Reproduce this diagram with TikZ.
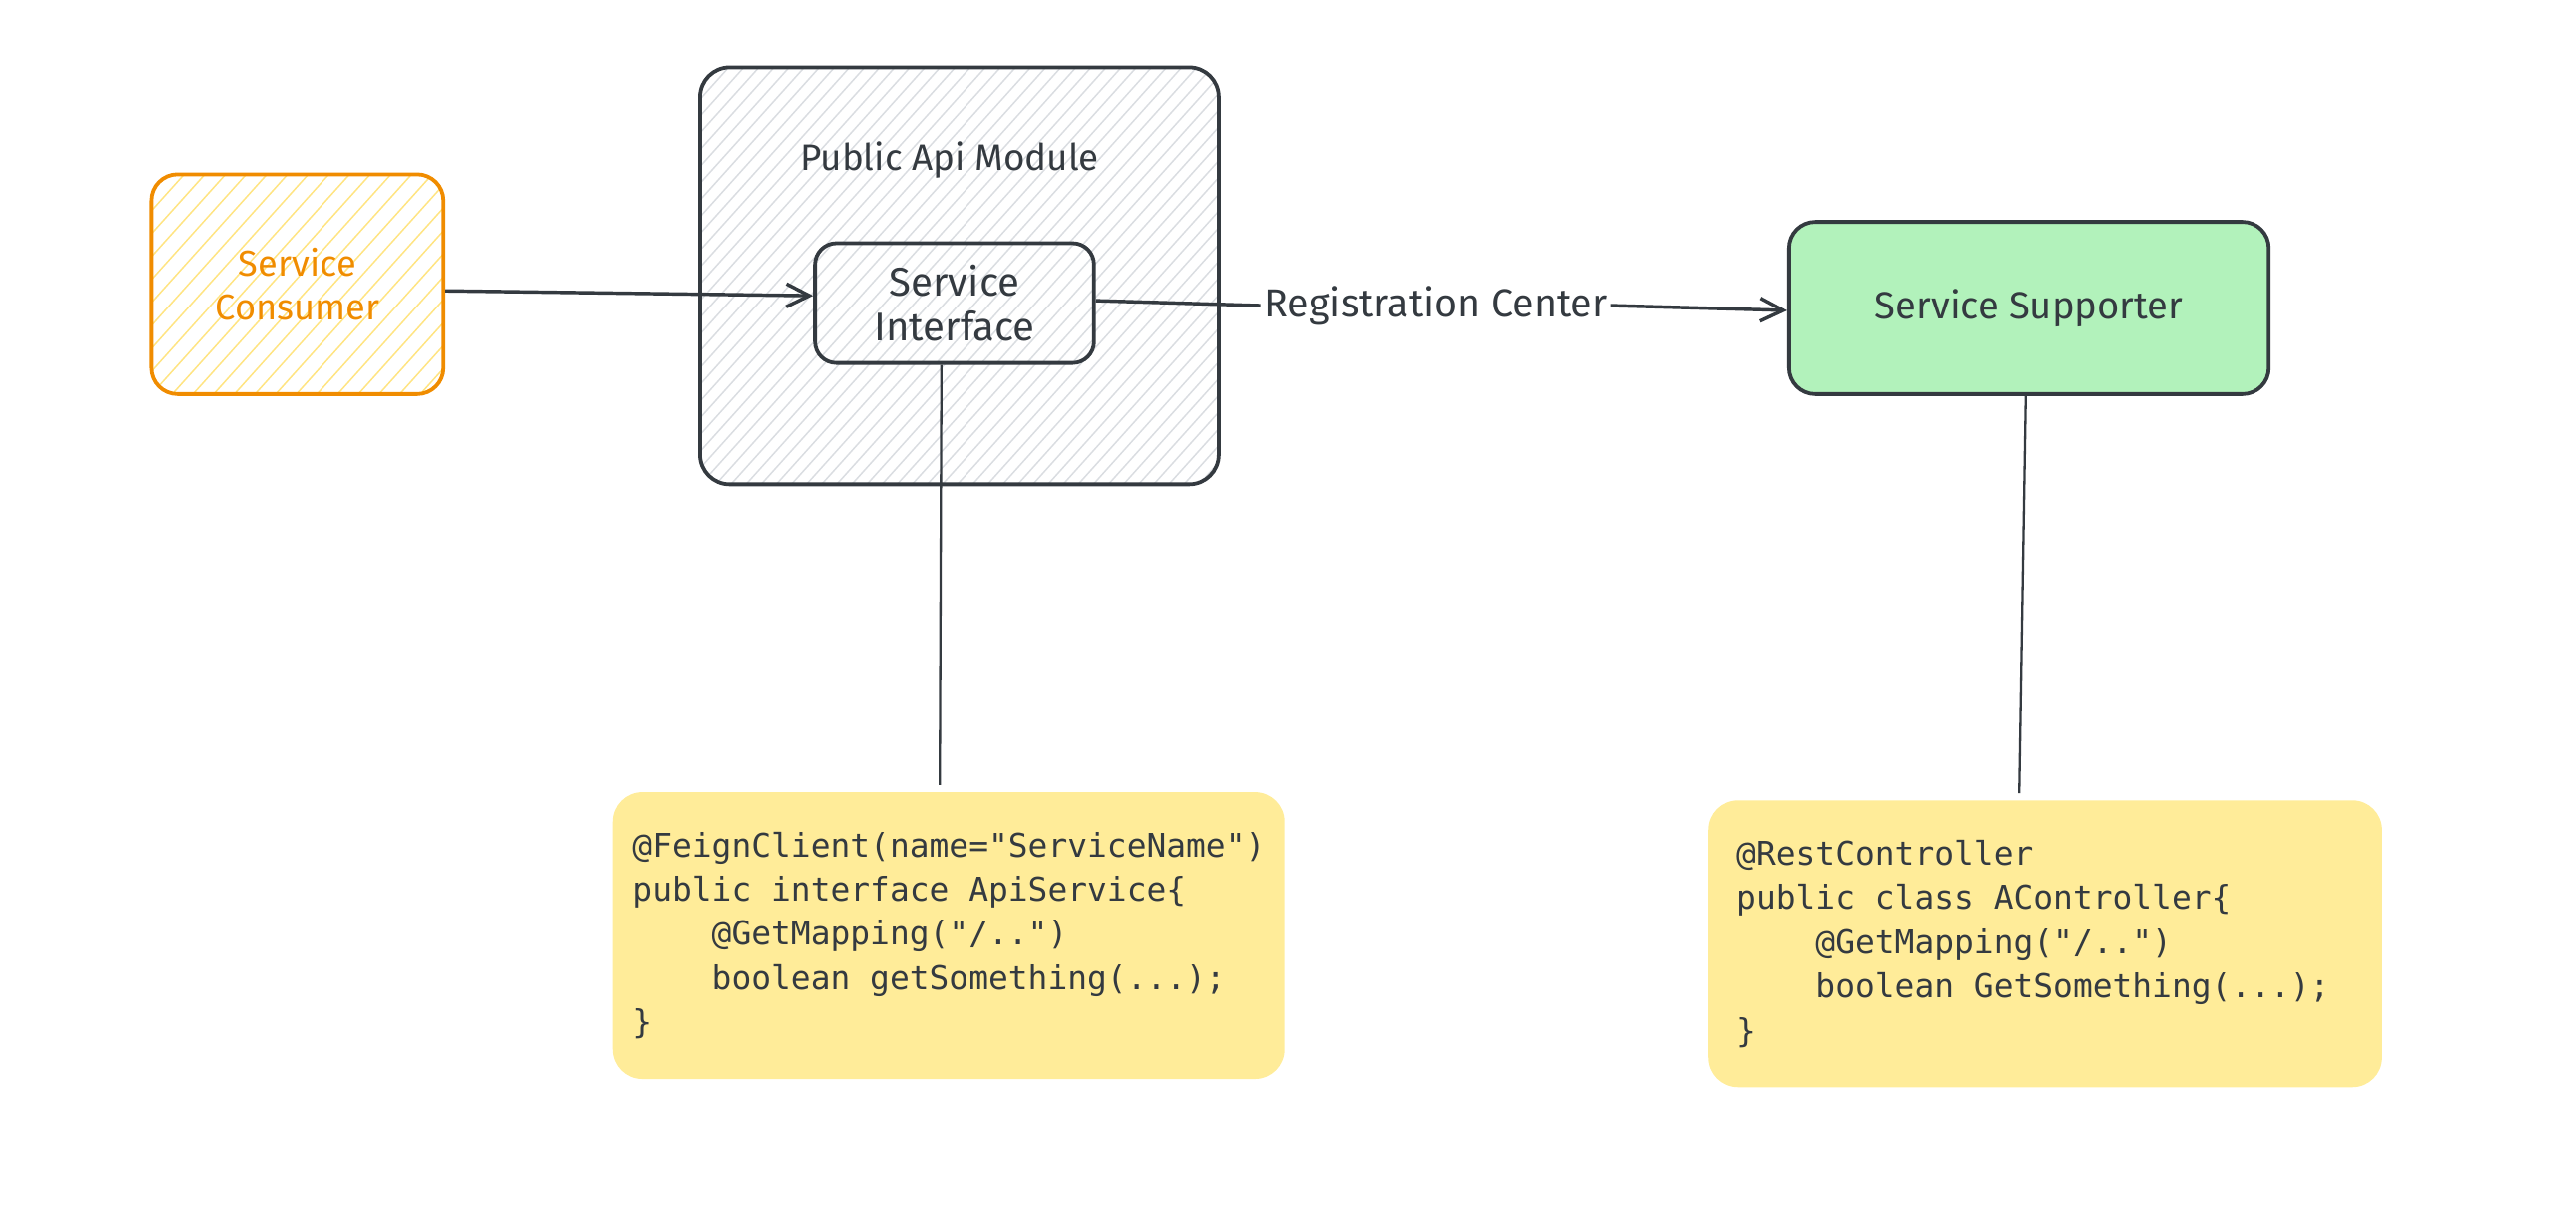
\documentclass[tikz,border=0pt]{standalone}
\usepackage{fontspec}
\setmainfont{Fira Sans}
\setmonofont{DejaVu Sans Mono}
\usetikzlibrary{arrows.meta}
\definecolor{ink}{RGB}{52,58,64}
\definecolor{orng}{RGB}{240,140,0}
\definecolor{hatchy}{RGB}{255,228,130}
\definecolor{hatchg}{RGB}{218,221,225}
\definecolor{grn}{RGB}{178,242,187}
\definecolor{yel}{RGB}{255,236,153}
\newcommand\codesp{\hspace*{0.602em}}
\tikzset{
  hatched/.style 2 args={path picture={
    \foreach \k in {0,...,90}{
      \draw[#1,line width=0.45pt] ([xshift=-170pt+\k*#2]path picture bounding box.south west) -- ++(180pt,200pt);
    }}},
  box/.style={draw=ink,line width=1.15pt,rounded corners=#1,align=center,inner sep=0pt,text=ink},
  codebox/.style={fill=yel,rounded corners=9pt,align=left,text=ink,inner ysep=0pt,font=\ttfamily\fontsize{10}{13.5}\selectfont},
  conn/.style={draw=ink,line width=1.05pt},
  thin/.style={draw=ink,line width=0.7pt},
  arr/.style={conn,-{Straight Barb[length=7pt,width=7pt]}},
  lbl/.style={text=ink,inner sep=1pt}
}
\begin{document}
\begin{tikzpicture}[x=0.5pt,y=-0.5pt]
\useasboundingbox (0,0) rectangle (1568,747.5);
% containers
\node[box=8pt,draw=orng,text=orng,hatched={hatchy}{6.3pt},minimum width=89pt,minimum height=67pt,font=\fontsize{11}{13.5}\selectfont] (consumer) at (181,173) {Service\\Consumer};
\node[box=9pt,hatched={hatchg}{4.6pt},minimum width=158pt,minimum height=127pt] (api) at (584,168) {};
\node[lbl,font=\fontsize{11.2}{13.5}\selectfont] (apilabel) at (578,97) {Public Api Module};
\node[box=6.5pt,fill=white,hatched={hatchg}{4.6pt},minimum width=85pt,minimum height=36.5pt,font=\fontsize{12.2}{13.5}\selectfont] (iface) at (581,184.5) {Service\\Interface};
\node[box=8pt,fill=grn,minimum width=146pt,minimum height=52.5pt,font=\fontsize{11.6}{13.5}\selectfont] (supp) at (1235,187.5) {Service Supporter};
\node[lbl,font=\fontsize{12}{13.5}\selectfont] (reg) at (874,186) {Registration Center};
% code boxes
\node[codebox,inner xsep=6pt,text width=192.5pt,minimum height=87.5pt] (code1) at (577.5,569.5) {@FeignClient(name="ServiceName")\\public\codesp interface\codesp ApiService\{\\\codesp\codesp\codesp\codesp @GetMapping("/..")\\\codesp\codesp\codesp\codesp boolean\codesp getSomething(...);\\\}};
\node[codebox,inner xsep=8.5pt,text width=188pt,minimum height=87.5pt] (code2) at (1245,574.5) {@RestController\\public\codesp class\codesp AController\{\\\codesp\codesp\codesp\codesp @GetMapping("/..")\\\codesp\codesp\codesp\codesp boolean\codesp GetSomething(...);\\\}};
% connectors
\draw[arr] ([yshift=-2pt]consumer.east) -- ([yshift=2.25pt]iface.west);
\draw[conn] ([yshift=0.75pt]iface.east) -- (reg.west);
\draw[arr] (reg.east) -- ([yshift=-0.75pt]supp.west);
\draw[thin] ([xshift=-4pt]iface.south) -- ([xshift=-2.75pt,yshift=2pt]code1.north);
\draw[thin] ([xshift=-1pt]supp.south) -- ([xshift=-8pt,yshift=2pt]code2.north);
\end{tikzpicture}
\end{document}
